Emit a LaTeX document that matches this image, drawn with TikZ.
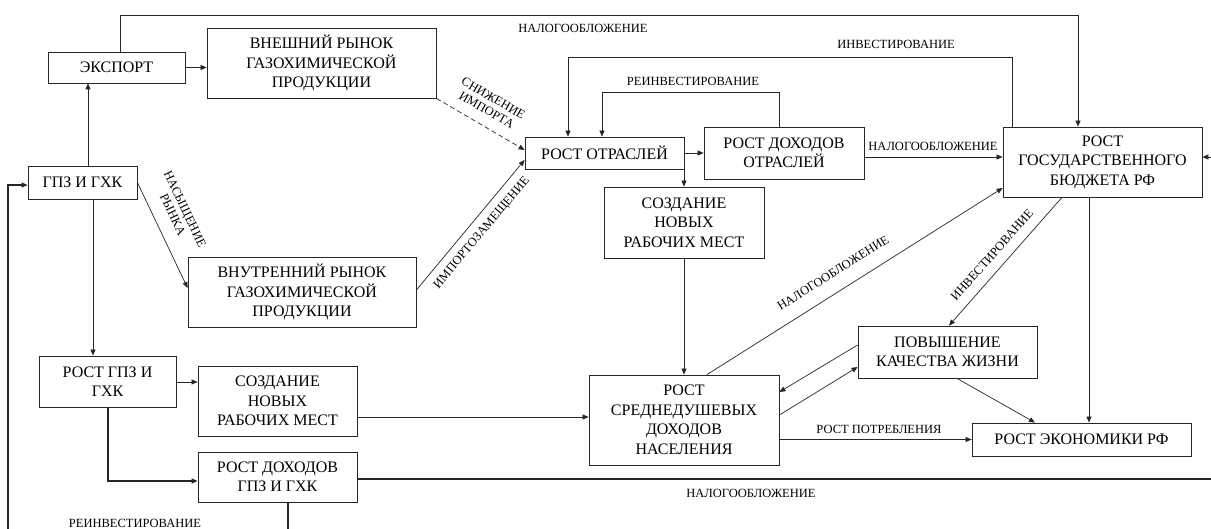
\documentclass[tikz,border=0pt]{standalone}
\usepackage{fontspec}
\setmainfont{Liberation Serif}
\usetikzlibrary{arrows.meta}
\begin{document}
\begin{tikzpicture}[x=1pt,y=-1pt,
  box/.style={draw=black!85,line width=0.8pt,inner sep=0pt,align=center,font=\fontsize{16}{19.5}\selectfont},
  lbl/.style={inner sep=0pt,align=center,font=\fontsize{12.5}{13.5}\selectfont},
  conn/.style={draw=black!85,line width=0.7pt},
  arr/.style={conn,-{Triangle[length=6pt,width=5pt]}},
  thick conn/.style={draw=black!85,line width=1.6pt},
]
\useasboundingbox (0,0) rectangle (1211,529);
% boxes
\node[box,minimum width=137pt,minimum height=31pt] (export) at (116.5,67.5) {ЭКСПОРТ};
\node[box,minimum width=229pt,minimum height=70pt] (vneshn) at (321.5,63) {ВНЕШНИЙ РЫНОК\\ГАЗОХИМИЧЕСКОЙ\\ПРОДУКЦИИ};
\node[box,minimum width=109pt,minimum height=33pt] (gpz) at (82.5,182.5) {ГПЗ И ГХК};
\node[box,minimum width=228pt,minimum height=70pt] (vnutr) at (302,292) {ВНУТРЕННИЙ РЫНОК\\ГАЗОХИМИЧЕСКОЙ\\ПРОДУКЦИИ};
\node[box,minimum width=159pt,minimum height=32pt] (otrasl) at (604.5,153) {РОСТ ОТРАСЛЕЙ};
\node[box,minimum width=160pt,minimum height=52pt] (dohotr) at (784,153) {РОСТ ДОХОДОВ\\ОТРАСЛЕЙ};
\node[box,minimum width=199pt,minimum height=70pt] (budget) at (1102.5,162) {РОСТ\\ГОСУДАРСТВЕННОГО\\БЮДЖЕТА РФ};
\node[box,minimum width=160pt,minimum height=71pt] (sozd1) at (684,222.5) {СОЗДАНИЕ\\НОВЫХ\\РАБОЧИХ МЕСТ};
\node[box,minimum width=190pt,minimum height=90pt] (sredn) at (684,420) {РОСТ\\СРЕДНЕДУШЕВЫХ\\ДОХОДОВ\\НАСЕЛЕНИЯ};
\node[box,minimum width=179pt,minimum height=52pt] (povysh) at (947.5,352) {ПОВЫШЕНИЕ\\КАЧЕСТВА ЖИЗНИ};
\node[box,minimum width=219pt,minimum height=33pt] (econ) at (1081.5,439.5) {РОСТ ЭКОНОМИКИ РФ};
\node[box,minimum width=137pt,minimum height=51pt] (rostgpz) at (107.5,381.5) {РОСТ ГПЗ И\\ГХК};
\node[box,minimum width=159pt,minimum height=70pt] (sozd2) at (277.5,401) {СОЗДАНИЕ\\НОВЫХ\\РАБОЧИХ МЕСТ};
\node[box,minimum width=159pt,minimum height=50pt] (dohgpz) at (277.5,477) {РОСТ ДОХОДОВ\\ГПЗ И ГХК};
% helper coordinates
\coordinate (topL) at (120,15);
\coordinate (topR) at (1078,15);
\coordinate (reinvR) at (779,92);
\coordinate (reinvL) at (602,92);
\coordinate (invR) at (1012,57);
\coordinate (invL) at (568,57);
\coordinate (offR1) at (1218,157);
\coordinate (offR2) at (1218,479);
\coordinate (offB1) at (288,545);
\coordinate (offB2) at (8,545);
\coordinate (leftUp) at (8,185);
\coordinate (gpzDown) at (108,481);
% connectors
\draw[arr] (88,0 |- gpz.north) -- (88,0 |- export.south);
\draw[arr] (export.east) -- (vneshn.west |- export.east);
\draw[arr] (topL |- export.north) -- (topL) -- (topR) -- (topR |- budget.north);
\draw[arr] (gpz.east) -- (vnutr.west |- 0,288);
\draw[arr,dashed,dash pattern=on 5pt off 3pt] (vneshn.south east) -- (otrasl.west |- 0,150);
\draw[arr] (vnutr.east |- 0,290) -- (otrasl.west |- 0,160);
\draw[arr] (otrasl.east) -- (dohotr.west);
\draw[arr] (reinvR |- dohotr.north) -- (reinvR) -- (reinvL) -- (reinvL |- otrasl.north);
\draw[arr] (invR |- budget.north) -- (invR) -- (invL) -- (invL |- otrasl.north);
\draw[arr] (dohotr.east |- 0,157) -- (budget.west |- 0,157);
\draw[arr] (offR1) -- (budget.east |- offR1);
\draw[thick conn] (dohgpz.east |- offR2) -- (offR2) -- (offR1);
\draw[arr] (684,0 |- otrasl.south) -- (sozd1.north);
\draw[arr] (sozd1.south) -- (sredn.north);
\draw[arr] (707,0 |- sredn.north) -- (budget.west |- 0,188);
\draw[arr] (1062,0 |- budget.south) -- (949,0 |- povysh.north);
\draw[arr] (1089,0 |- budget.south) -- (1089,0 |- econ.north);
\draw[arr] (957,0 |- povysh.south) -- (1035,0 |- econ.north);
\draw[arr] (sredn.east |- econ.west) -- (econ.west);
\draw[arr] (povysh.west |- 0,345) -- (sredn.east |- 0,392);
\draw[arr] (sredn.east |- 0,415) -- (povysh.west |- 0,367);
\draw[arr] (93,0 |- gpz.south) -- (93,0 |- rostgpz.north);
\draw[arr] (rostgpz.east |- 0,382) -- (sozd2.west |- 0,382);
\draw[arr] (sozd2.east |- 0,417) -- (sredn.west |- 0,417);
\draw[thick conn,-{Triangle[length=6pt,width=5pt]}] (gpzDown |- rostgpz.south) -- (gpzDown) -- (dohgpz.west |- gpzDown);
\draw[thick conn,-{Triangle[length=6pt,width=5pt]}] (offB1 |- dohgpz.south) -- (offB1) -- (offB2) -- (leftUp) -- (gpz.west |- leftUp);
% labels
\node[lbl] (l1) at (583,28) {НАЛОГООБЛОЖЕНИЕ};
\node[lbl] (l2) at (896,44) {ИНВЕСТИРОВАНИЕ};
\node[lbl] (l3) at (693,81) {РЕИНВЕСТИРОВАНИЕ};
\node[lbl] (l4) at (933,146) {НАЛОГООБЛОЖЕНИЕ};
\node[lbl,rotate=-30] (l5) at (490,104) {СНИЖЕНИЕ\\ИМПОРТА};
\node[lbl,rotate=-64.5] (l6) at (179,212) {НАСЫЩЕНИЕ\\РЫНКА};
\node[lbl,rotate=50] (l7) at (482,233) {ИМПОРТОЗАМЕЩЕНИЕ};
\node[lbl,rotate=32.3] (l8) at (833,273) {НАЛОГООБЛОЖЕНИЕ};
\node[lbl,rotate=48.6] (l9) at (992,255) {ИНВЕСТИРОВАНИЕ};
\node[lbl] (l10) at (879,429) {РОСТ ПОТРЕБЛЕНИЯ};
\node[lbl] (l11) at (751,493) {НАЛОГООБЛОЖЕНИЕ};
\node[lbl] (l12) at (135,523) {РЕИНВЕСТИРОВАНИЕ};
\end{tikzpicture}
\end{document}
